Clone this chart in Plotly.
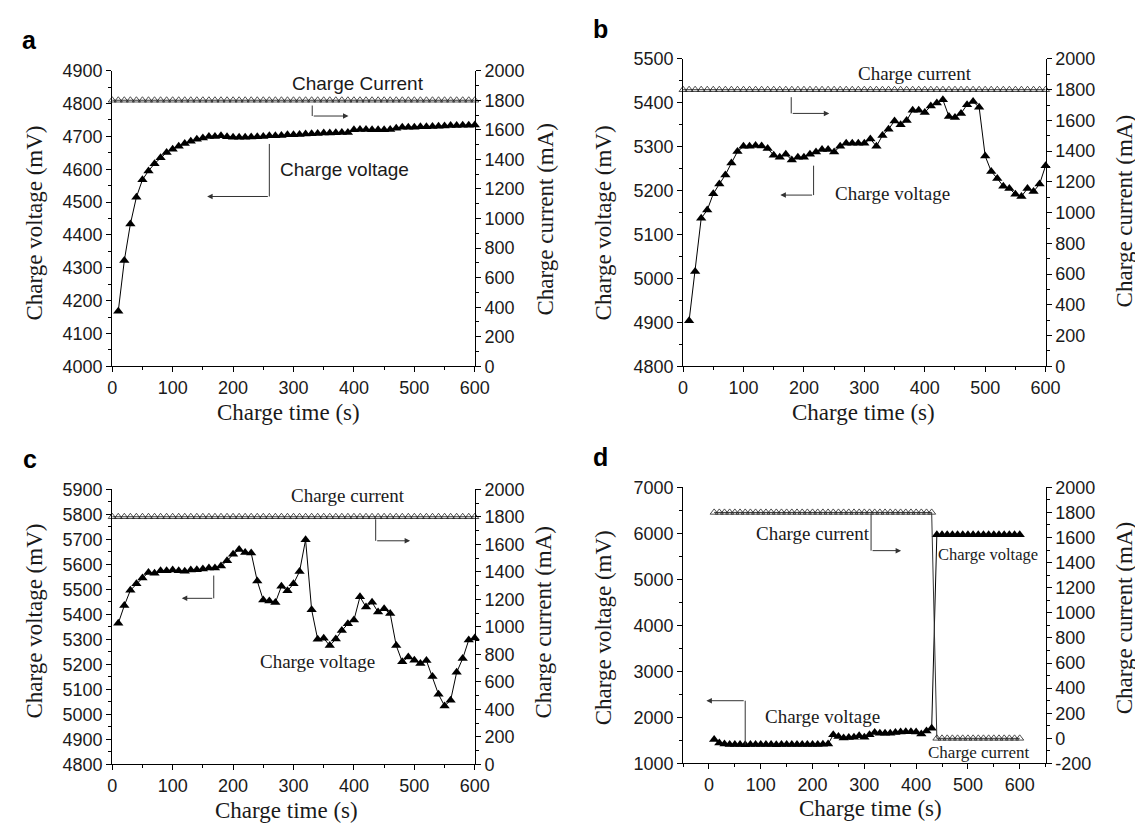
import plotly.graph_objects as go

# ---------------- data ----------------
t_voltage = list(range(10, 610, 10))          # charge time (s) for voltage samples
t_current_abc = list(range(0, 610, 10))       # charge time (s) for current samples (a, b, c)
t_current_d = list(range(10, 610, 10))        # charge time (s) for current samples (d)

a_voltage = [4168, 4322, 4433, 4515, 4568, 4595, 4617, 4635, 4651, 4661,
             4670, 4678, 4685, 4691, 4695, 4700, 4700, 4702, 4699, 4697,
             4697, 4697, 4698, 4699, 4700, 4702, 4702, 4703, 4705, 4705,
             4706, 4707, 4708, 4709, 4710, 4710, 4711, 4712, 4712, 4720,
             4721, 4721, 4720, 4720, 4720, 4721, 4725, 4728, 4728, 4728,
             4729, 4729, 4730, 4731, 4732, 4733, 4733, 4734, 4734, 4735]
a_current = [1800] * 61

b_voltage = [4904, 5016, 5137, 5156, 5193, 5215, 5236, 5263, 5289, 5301,
             5301, 5303, 5302, 5296, 5281, 5276, 5283, 5270, 5276, 5276,
             5283, 5288, 5294, 5294, 5288, 5301, 5308, 5308, 5308, 5308,
             5318, 5301, 5326, 5340, 5359, 5350, 5360, 5383, 5383, 5378,
             5393, 5400, 5407, 5369, 5367, 5376, 5396, 5403, 5390, 5279,
             5244, 5228, 5210, 5205, 5192, 5187, 5205, 5198, 5215, 5257]
b_current = [1800] * 61

c_voltage = [5364, 5435, 5496, 5522, 5545, 5567, 5564, 5574, 5574, 5577,
             5574, 5572, 5577, 5578, 5581, 5585, 5585, 5593, 5614, 5640,
             5659, 5647, 5645, 5533, 5457, 5453, 5447, 5512, 5494, 5522,
             5571, 5698, 5418, 5300, 5304, 5275, 5301, 5335, 5362, 5377,
             5470, 5429, 5448, 5409, 5422, 5403, 5275, 5210, 5229, 5216,
             5203, 5215, 5151, 5080, 5034, 5056, 5168, 5223, 5297, 5305]
c_current = [1800] * 61

d_voltage = [1520, 1445, 1420, 1412, 1410, 1410, 1408, 1410, 1410, 1412,
             1410, 1410, 1408, 1410, 1410, 1410, 1412, 1410, 1410, 1410,
             1412, 1415, 1420, 1621, 1586, 1550, 1565, 1571, 1600, 1571,
             1621, 1670, 1656, 1656, 1656, 1670, 1684, 1691, 1691, 1684,
             1642, 1706, 1762, 5970, 5970, 5970, 5970, 5970, 5970, 5970,
             5970, 5970, 5970, 5970, 5970, 5970, 5970, 5970, 5970, 5970]
d_current = [1800] * 43 + [0] * 17

# tick labels of the right axis in panel d (hyphen-minus as in the original)
d_current_ticks = [-200, 0, 200, 400, 600, 800, 1000, 1200, 1400, 1600, 1800, 2000]
d_current_ticktext = ["-200", "0", "200", "400", "600", "800", "1000",
                      "1200", "1400", "1600", "1800", "2000"]

# ---------------- layout geometry (pixels) ----------------
W, H = 1143, 823
SANS = "Liberation Sans, Arial, sans-serif"
SERIF = "Liberation Serif, Times New Roman, serif"
INK = "#1a1a1a"


def px_x(p):
    return p / W


def px_y(p):
    return 1 - p / H


panels = [
    dict(letter="a", xa="x", ya="y", ya2="y2", box=(101, 470, 54, 357),
         xr=[0, 600], yr=[4000, 4900], ydt=100, ymin=50, y2r=[0, 2000],
         tv=t_voltage, v=a_voltage, tc=t_current_abc, c=a_current),
    dict(letter="b", xa="x2", ya="y3", ya2="y4", box=(682, 1051, 42, 357),
         xr=[0, 600], yr=[4800, 5500], ydt=100, ymin=50, y2r=[0, 2000],
         tv=t_voltage, v=b_voltage, tc=t_current_abc, c=b_current),
    dict(letter="c", xa="x3", ya="y5", ya2="y6", box=(101, 470, 483, 765),
         xr=[0, 600], yr=[4800, 5900], ydt=100, ymin=50, y2r=[0, 2000],
         tv=t_voltage, v=c_voltage, tc=t_current_abc, c=c_current),
    dict(letter="d", xa="x4", ya="y7", ya2="y8", box=(682, 1051, 481, 764),
         xr=[-50, 650], yr=[1000, 7000], ydt=1000, ymin=500, y2r=[-200, 2000],
         tv=t_voltage, v=d_voltage, tc=t_current_d, c=d_current),
]

fig = go.Figure()
layout = dict(
    width=W, height=H,
    margin=dict(l=0, r=0, t=0, b=0),
    paper_bgcolor="white", plot_bgcolor="white",
    showlegend=False,
    annotations=[], shapes=[],
)


def axname(ref):
    return ref.replace("x", "xaxis").replace("y", "yaxis")


def base_axis(rng, dtick, minor, tick0=0):
    return dict(
        range=rng, dtick=dtick, tick0=tick0,
        ticks="outside", ticklen=5, tickwidth=1, tickcolor="black",
        showline=True, linecolor="black", linewidth=1,
        showgrid=False, zeroline=False,
        tickfont=dict(family=SANS, size=18, color=INK),
        minor=dict(dtick=minor, tick0=tick0, ticks="outside", ticklen=3,
                   tickwidth=1, tickcolor="black", showgrid=False),
    )


for p in panels:
    x0, x1, y0, y1 = p["box"]
    xd = [px_x(x0), px_x(x1)]
    yd = [px_y(y1), px_y(y0)]
    xa = base_axis(p["xr"], 100, 50)
    xa.update(domain=xd, anchor=p["ya"])
    ya = base_axis(p["yr"], p["ydt"], p["ymin"])
    ya.update(domain=yd, anchor=p["xa"], side="left")
    y2 = base_axis(p["y2r"], 200, 100)
    y2.update(domain=yd, anchor=p["xa"], side="right", overlaying=p["ya"])
    if p["letter"] == "d":
        y2.update(tickmode="array", tickvals=d_current_ticks,
                  ticktext=d_current_ticktext)
    layout[axname(p["xa"])] = xa
    layout[axname(p["ya"])] = ya
    layout[axname(p["ya2"])] = y2

    # current (open triangles, right axis)
    fig.add_trace(go.Scatter(
        x=p["tc"], y=p["c"], xaxis=p["xa"], yaxis=p["ya2"],
        mode="lines+markers", cliponaxis=False,
        line=dict(color="#333333", width=1),
        marker=dict(symbol="triangle-up-open", size=7, color="#222222",
                    line=dict(width=0.8)),
    ))
    # voltage (filled triangles, left axis)
    fig.add_trace(go.Scatter(
        x=p["tv"], y=p["v"], xaxis=p["xa"], yaxis=p["ya"],
        mode="lines+markers", cliponaxis=False,
        line=dict(color="black", width=1),
        marker=dict(symbol="triangle-up", size=9, color="black"),
    ))

    # panel letter
    layout["annotations"].append(dict(
        text="<b>%s</b>" % p["letter"], xref="paper", yref="paper",
        x=px_x(x0 - 84), y=px_y(y0 - 31), xanchor="center", yanchor="middle",
        showarrow=False, font=dict(family=SANS, size=25, color="black")))

# ---------------- axis titles ----------------
titles = [
    # text, px x, px y, angle
    ("Charge voltage (mV)", 22, 210, -90),
    ("Charge current (mA)", 542, 207, -90),
    ("Charge time (s)", 280, 404, 0),
    ("Charge voltage (mV)", 601, 210, -90),
    ("Charge current (mA)", 1131, 198, -90),
    ("Charge time (s)", 866, 404, 0),
    ("Charge voltage (mV)", 22, 618, -90),
    ("Charge current (mA)", 540, 620, -90),
    ("Charge time (s)", 278, 812, 0),
    ("Charge voltage (mV)", 601, 625, -90),
    ("Charge current (mA)", 1131, 615, -90),
    ("Charge time (s)", 873, 810, 0),
]
for text, x, y, ang in titles:
    layout["annotations"].append(dict(
        text=text, xref="paper", yref="paper", x=px_x(x), y=px_y(y),
        xanchor="center", yanchor="middle", textangle=ang, showarrow=False,
        font=dict(family=SERIF, size=23, color=INK)))

# ---------------- in-plot labels ----------------
labels = [
    ("Charge Current", "x", "y", 407, 4860, SANS, 19),
    ("Charge voltage", "x", "y", 384, 4599, SANS, 19),
    ("Charge current", "x2", "y3", 384, 5467, SERIF, 19),
    ("Charge voltage", "x2", "y3", 346, 5194, SERIF, 19),
    ("Charge current", "x3", "y5", 390, 5874, SERIF, 19),
    ("Charge voltage", "x3", "y5", 340, 5210, SERIF, 19),
    ("Charge current", "x4", "y7", 201, 5998, SERIF, 19),
    ("Charge voltage", "x4", "y7", 539, 5539, SERIF, 16.5),
    ("Charge voltage", "x4", "y7", 219, 2025, SERIF, 19),
    ("Charge current", "x4", "y7", 521, 1248, SERIF, 17),
]
for text, xr, yr, x, y, fam, sz in labels:
    layout["annotations"].append(dict(
        text=text, xref=xr, yref=yr, x=x, y=y, xanchor="center",
        yanchor="middle", showarrow=False,
        font=dict(family=fam, size=sz, color=INK)))

# ---------------- L-shaped pointer arrows ----------------
pointers = [
    ("x", "y", 331, 4794, 4762, 391),
    ("x", "y", 260, 4677, 4517, 157),
    ("x2", "y3", 179, 5413, 5376, 242),
    ("x2", "y3", 216, 5257, 5190, 161),
    ("x3", "y5", 436, 5780, 5694, 493),
    ("x3", "y5", 168, 5555, 5464, 115),
    ("x4", "y7", 313, 6420, 5624, 371),
    ("x4", "y7", 70, 1410, 2363, -5),
]
for xr, yr, xc, ys, yb, xt in pointers:
    layout["shapes"].append(dict(
        type="line", xref=xr, yref=yr, x0=xc, x1=xc, y0=ys, y1=yb,
        line=dict(color="#333333", width=1)))
    layout["annotations"].append(dict(
        text="", xref=xr, yref=yr, x=xt, y=yb, axref=xr, ayref=yr,
        ax=xc, ay=yb, showarrow=True, arrowhead=2, arrowsize=1.1,
        arrowwidth=1, arrowcolor="#333333", standoff=0, startstandoff=0))

fig.update_layout(**layout)
fig.write_html("out.html")
